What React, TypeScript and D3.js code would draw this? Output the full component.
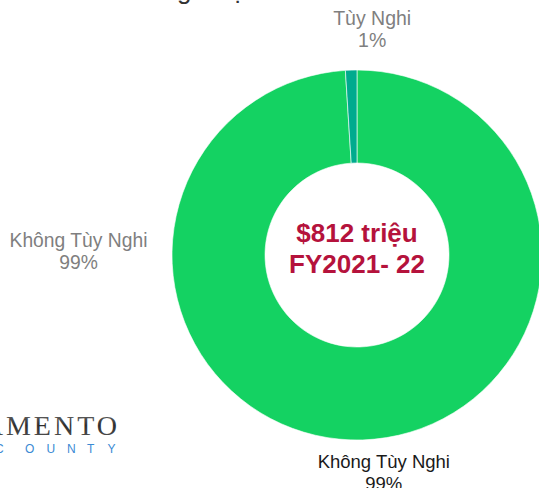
import React from 'react'
import * as d3 from 'd3'

const W = 539
const H = 488

// slices of the budget
const categories = ['Không Tùy Nghi', 'Tùy Nghi']
const values = [99, 1]
const percentLabels = ['99%', '1%']
const sliceColors = ['#14d262', '#00ab8e']

const centerLines = ['$812 triệu', 'FY2021- 22']
const sideLabel = ['Không Tùy Nghi', '99%']

const CX = 357
const CY = 255
const R = 185
const R_IN = 92

const App = () => {
  const pie = d3
    .pie<number>()
    .value(d => d)
    .sort(null)

  const arcs = pie(values)

  const arc = d3
    .arc<d3.PieArcDatum<number>>()
    .innerRadius(R_IN)
    .outerRadius(R)

  // label for each slice, put outside the ring
  const labelPos = (d: d3.PieArcDatum<number>) => {
    const mid = (d.startAngle + d.endAngle) / 2
    const down = Math.cos(mid) < 0
    const x = CX + Math.sin(mid) * R + 21
    const y = down ? CY + R + 28 : CY - R - 23 - 22
    return { x, y }
  }

  return (
    <svg
      width={W}
      height={H}
      style={{ position: 'fixed', left: 0, top: 0, background: '#fff' }}
      fontFamily="'Liberation Sans', Arial, sans-serif"
    >
      <defs>
        <linearGradient id="logoGrey" x1="0" y1="0" x2="0" y2="1">
          <stop offset="0" stopColor="#7a7a7a" />
          <stop offset="0.5" stopColor="#2e2e2e" />
          <stop offset="1" stopColor="#5a5a5a" />
        </linearGradient>
      </defs>

      {/* cut off title line at the top */}
      <text x={58} y={-1} fontSize={26} fill="#333">
        Tiền Chung được Chi
      </text>

      <g transform={`translate(${CX},${CY})`}>
        {arcs.map((d, i) => (
          <path
            key={categories[i]}
            d={arc(d) || ''}
            fill={sliceColors[i]}
            stroke="#ffffff"
            strokeWidth={0.6}
          />
        ))}
      </g>

      {arcs.map((d, i) => {
        const p = labelPos(d)
        const dark = i === 0
        return (
          <text
            key={'lbl' + i}
            x={p.x}
            y={p.y}
            textAnchor="middle"
            fontSize={dark ? 18.5 : 19.5}
            fill={dark ? '#1a1a1a' : '#7f7f7f'}
          >
            <tspan x={p.x}>{categories[i]}</tspan>
            <tspan x={p.x} dy={22}>
              {percentLabels[i]}
            </tspan>
          </text>
        )
      })}

      <text x={78.5} y={247} textAnchor="middle" fontSize={19.3} fill="#7f7f7f">
        <tspan x={78.5}>{sideLabel[0]}</tspan>
        <tspan x={78.5} dy={22}>
          {sideLabel[1]}
        </tspan>
      </text>

      <text
        x={CX}
        y={242}
        textAnchor="middle"
        fontSize={26}
        fontWeight="bold"
        fill="#b5123c"
      >
        <tspan x={CX}>{centerLines[0]}</tspan>
        <tspan x={CX} dy={31}>
          {centerLines[1]}
        </tspan>
      </text>

      {/* county logo, cut at the left edge */}
      <text
        x={120}
        y={435}
        textAnchor="end"
        fontFamily="'Liberation Serif', 'Times New Roman', serif"
        fontSize={28}
        letterSpacing={3}
        fill="url(#logoGrey)"
      >
        SACRAMENTO
      </text>
      <text
        x="-5 25 46.5 67 87 107.5"
        y={453}
        fontSize={12}
        fill="#3a8ad4"
      >
        COUNTY
      </text>
    </svg>
  )
}

export default App
